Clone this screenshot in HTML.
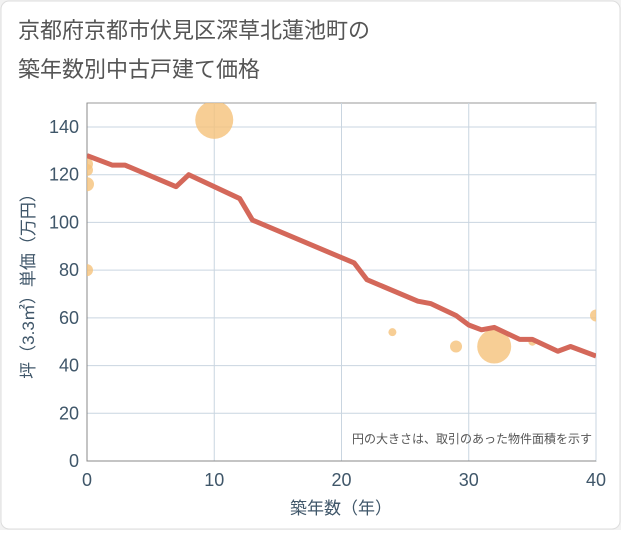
<!DOCTYPE html>
<html><head><meta charset="utf-8"><style>
body{margin:0;background:#fff;}
#wrap{width:621px;height:530px;position:relative;background:#f2f2f2;}
text{font-family:"Liberation Sans","Noto Sans CJK JP",sans-serif;}
</style></head><body>
<div id="wrap">
<svg id="c" width="621" height="530">
<defs><clipPath id="pc"><rect x="87" y="103" width="509" height="358"/></clipPath></defs>
<rect x="1" y="1" width="619" height="528" rx="8" fill="#fff" stroke="#ddd"/>
<text x="18" y="38" font-size="22" fill="#555">京都府京都市伏見区深草北蓮池町の</text>
<text x="18" y="77" font-size="22" fill="#555">築年数別中古戸建て価格</text>
<g id="grid"></g>
<g id="marks" clip-path="url(#pc)"></g>
<text x="592" y="443" font-size="12" fill="#555" text-anchor="end">円の大きさは、取引のあった物件面積を示す</text>
<text x="341" y="514" font-size="17" fill="#3f5669" text-anchor="middle">築年数（年）</text>
<text transform="translate(34,282) rotate(-90)" font-size="17" fill="#3f5669" text-anchor="middle">坪（3.3㎡）単価（万円）</text>
</svg></div>
<script>
const xTicks=[0,10,20,30,40];
const yTicks=[0,20,40,60,80,100,120,140];
const lineYears=[0,2,3,7,8,12,13,21,22,26,27,29,30,31,32,34,35,37,38,40];
const linePrices=[128,124,124,115,120,110,101,83,76,67,66,61,57,55,56,51,51,46,48,44];
const bubbleYears=[10,0,0,0,0,24,29,32,35,40];
const bubblePrices=[143,124.5,122,116,80,54,48,48,50,61];
const bubbleRadii=[19,6,6,7,6,4,6,17,4,6];
const X0=87,X1=596,Y0=461,Y1=103;
const sx=v=>X0+(X1-X0)*v/40;
const sy=v=>Y0-(Y0-127)*v/140;
const NS='http://www.w3.org/2000/svg';
const grid=document.getElementById('grid'),marks=document.getElementById('marks');
function mk(tag,attrs,parent){const e=document.createElementNS(NS,tag);for(const k in attrs)e.setAttribute(k,attrs[k]);parent.appendChild(e);return e;}
const pa=mk('rect',{x:X0,y:Y1,width:X1-X0,height:Y0-Y1,fill:'#fff',stroke:'#999'},grid);


yTicks.forEach(v=>{
 const l=mk('line',{x1:X0,x2:X1,y1:sy(v),y2:sy(v),stroke:'#c9d5e0'},grid);
 
 
 const t=mk('text',{x:X0-8,y:sy(v)+6,'font-size':18,fill:'#3f5669','text-anchor':'end'},grid);
 t.textContent=v;
 
 
});
xTicks.forEach(v=>{
 const l=mk('line',{x1:sx(v),x2:sx(v),y1:Y1,y2:Y0,stroke:'#c9d5e0'},grid);
 
 
 const t=mk('text',{x:sx(v),y:Y0+25,'font-size':18,fill:'#3f5669','text-anchor':'middle'},grid);
 t.textContent=v;
 
 
});
const ax=mk('path',{d:`M${X0},${Y1}V${Y0}H${X1}`,stroke:'#888',fill:'none'},grid);


bubbleYears.forEach((v,i)=>{
 const c=mk('circle',{cx:sx(v),cy:sy(bubblePrices[i]),r:bubbleRadii[i],fill:'#f5c27a','fill-opacity':0.8},marks);
 
 
});
const p=mk('polyline',{points:lineYears.map((v,i)=>sx(v)+','+sy(linePrices[i])).join(' '),fill:'none',stroke:'#d4685a','stroke-width':5,'stroke-linejoin':'round'},marks);


</script>
</body></html>
